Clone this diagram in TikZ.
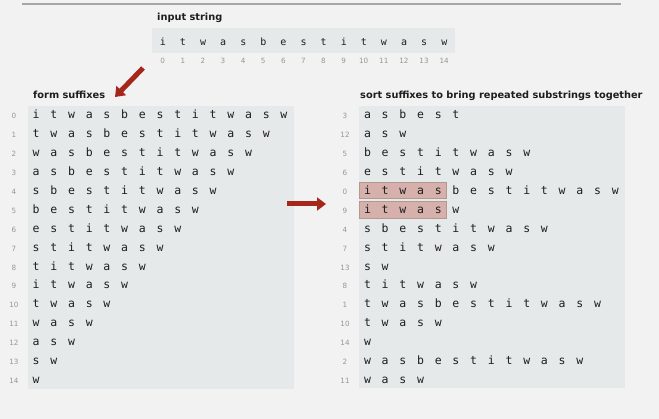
\documentclass[tikz,border=0pt]{standalone}
\usepackage{fontspec}
\setmainfont{DejaVu Sans}
\newfontfamily\lettersfont[LetterSpace=93.7]{DejaVu Sans Mono}
\newfontfamily\inputfont[LetterSpace=140.8]{DejaVu Sans Mono}
\usetikzlibrary{arrows.meta}
\definecolor{pagebg}{RGB}{242,242,242}
\definecolor{panelbg}{RGB}{229,233,234}
\definecolor{hilite}{RGB}{214,176,171}
\definecolor{arrowred}{RGB}{165,38,26}
\definecolor{txt}{RGB}{30,30,30}
\definecolor{idxcol}{RGB}{150,150,150}
\tikzset{
  panel/.style={fill=panelbg, draw=none},
  heading/.style={anchor=base west, inner sep=0pt, font=\bfseries\fontsize{9.8}{11}\selectfont, text=txt},
  rowtext/.style={anchor=base west, inner sep=0pt, font=\lettersfont\fontsize{11.5}{12}\selectfont, text=txt},
  inrow/.style={anchor=base west, inner sep=0pt, font=\inputfont\fontsize{10}{12}\selectfont, text=txt},
  idx/.style={anchor=base, inner sep=0pt, font=\fontsize{7.2}{8}\selectfont, text=idxcol},
  hl/.style={fill=hilite, draw=hilite!85!black, line width=0.3pt},
  bigarrow/.style={draw=arrowred, line width=5pt, -{Triangle[width=13pt,length=9pt]}},
}
\begin{document}
\begin{tikzpicture}[x=1pt,y=-1pt]
\useasboundingbox[fill=pagebg] (0,0) rectangle (659,419);
% top rule
\draw[draw=gray!70, line width=1.3pt] (22,4) -- (621,4);
% input string
\node[heading] (inhead) at (157,21) {input string};
\fill[panel] (152,28) rectangle (455,53);
\node[inrow] (instr) at (159.7,45.5) {itwasbestitwasw};
\foreach \i in {0,...,14} {
  \node[idx] (in-\i) at ({162.7+20.1*\i},64) {\i};
}
% left panel
\node[heading] (lefthead) at (33,98.3) {form suffixes};
\fill[panel] (28,106) rectangle (294,389);
\foreach \s [count=\r from 0] in {itwasbestitwasw,twasbestitwasw,wasbestitwasw,asbestitwasw,sbestitwasw,bestitwasw,estitwasw,stitwasw,titwasw,itwasw,twasw,wasw,asw,sw,w} {
  \node[idx] (li-\r) at (14,{119+18.88*\r}) {\r};
  \node[rowtext] (lr-\r) at (32.5,{119+18.88*\r}) {\s};
}
% right panel
\node[heading] (righthead) at (360,98.3) {sort suffixes to bring repeated substrings together};
\fill[panel] (359,106) rectangle (625,388);
\draw[hl] (359,182.3) rectangle (445.7,198.6);
\draw[hl] (359,201.4) rectangle (445.7,217.8);
\foreach \k/\s [count=\r from 0] in {3/asbest,12/asw,5/bestitwasw,6/estitwasw,0/itwasbestitwasw,9/itwasw,4/sbestitwasw,7/stitwasw,13/sw,8/titwasw,1/twasbestitwasw,10/twasw,14/w,2/wasbestitwasw,11/wasw} {
  \node[idx] (ri-\r) at (345,{119+18.88*\r}) {\k};
  \node[rowtext] (rr-\r) at (363.8,{119+18.88*\r}) {\s};
}
% arrows
\coordinate (a1s) at (143,68);
\coordinate (a1e) at (115,97);
\coordinate (a2s) at (287,204);
\coordinate (a2e) at (326,204);
\draw[bigarrow] (a1s) -- (a1e);
\draw[bigarrow] (a2s) -- (a2e);
\end{tikzpicture}
\end{document}
